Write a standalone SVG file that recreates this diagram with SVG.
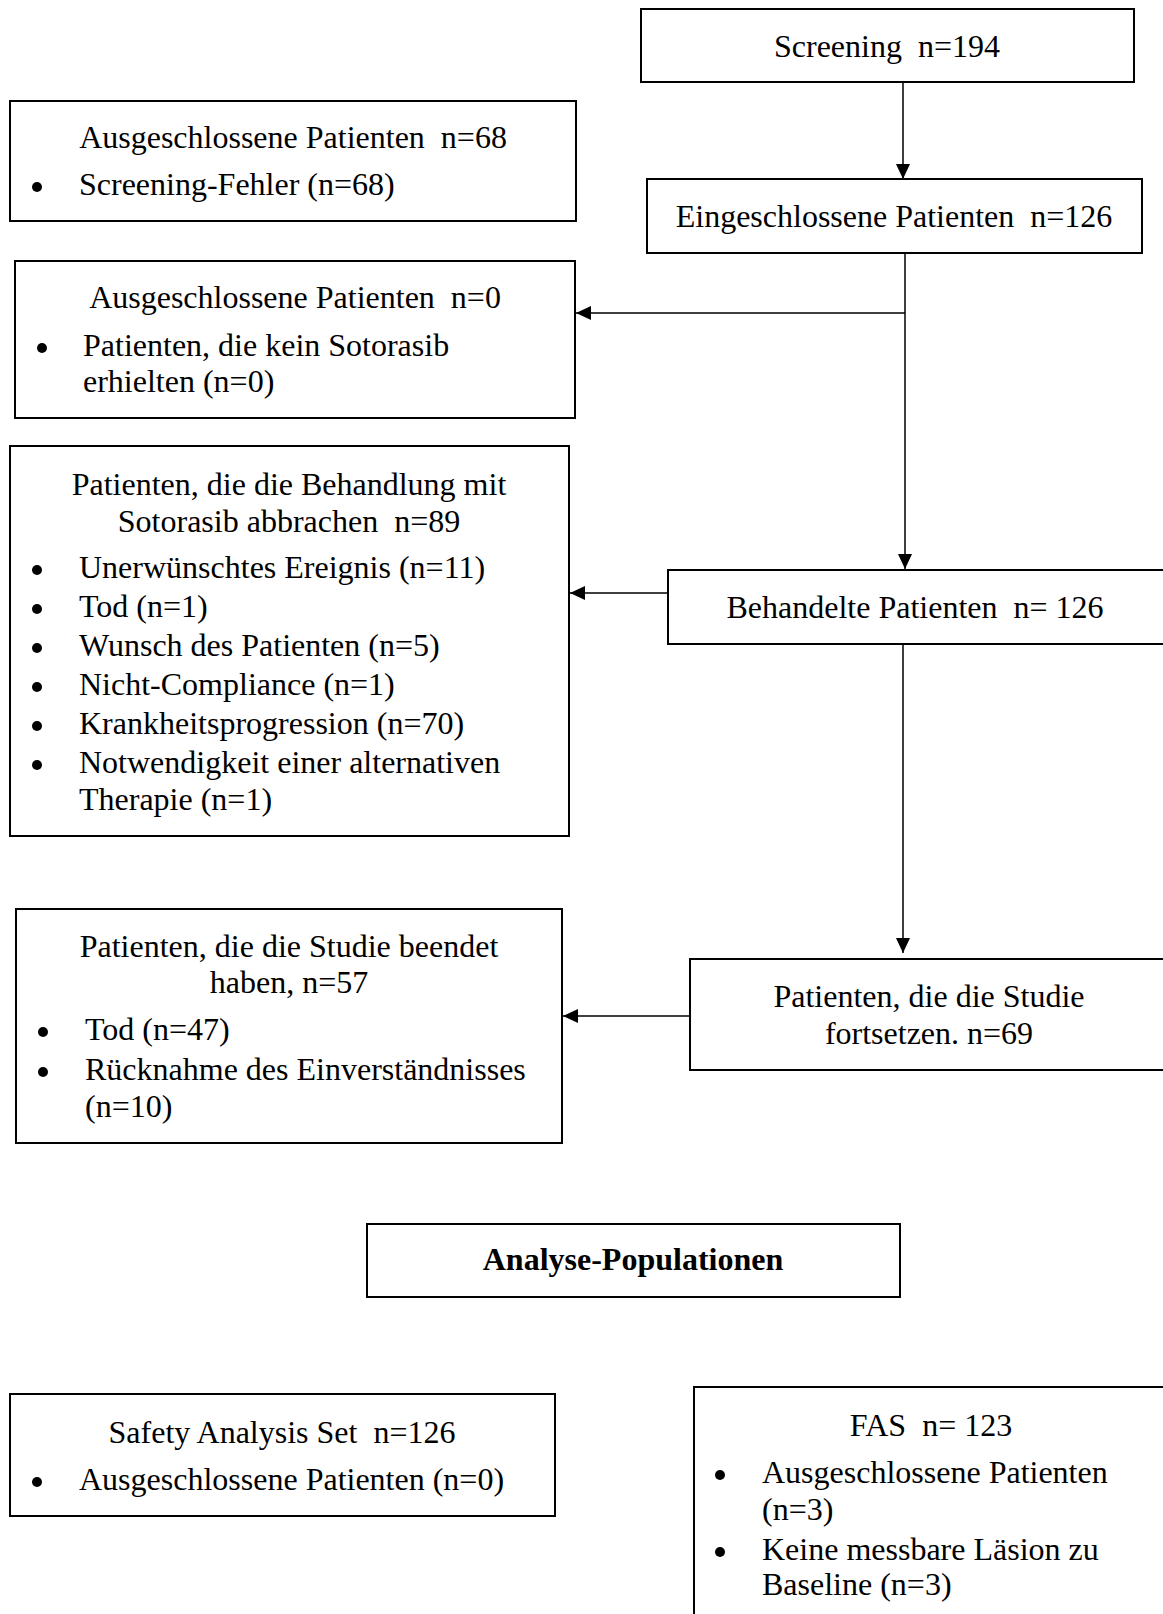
<svg xmlns="http://www.w3.org/2000/svg" width="1163" height="1614" viewBox="0 0 1163 1614">
  <style>
    .box { fill: #fff; stroke: #000; stroke-width: 2; }
    .t { font-family: "Liberation Serif", "Times New Roman", serif; font-size: 32px; fill: #000; white-space: pre; }
    .c { text-anchor: middle; }
    .b { font-weight: bold; }
    .dot { fill: #000; }
    .conn { fill: none; stroke: #000; stroke-width: 1.5; }
  </style>
  <defs>
    <marker id="arrow" markerUnits="userSpaceOnUse" markerWidth="15" markerHeight="14" refX="15" refY="7" orient="auto">
      <path d="M0,0 L15,7 L0,14 z" fill="#000"/>
    </marker>
  </defs>
  <rect width="1163" height="1614" fill="#fff"/>

  <!-- connectors -->
  <g id="connectors">
    <line class="conn" x1="903" y1="83" x2="903" y2="179" marker-end="url(#arrow)"/>
    <line class="conn" x1="905" y1="253" x2="905" y2="569" marker-end="url(#arrow)"/>
    <line class="conn" x1="905" y1="313" x2="576" y2="313" marker-end="url(#arrow)"/>
    <line class="conn" x1="667" y1="593" x2="570" y2="593" marker-end="url(#arrow)"/>
    <line class="conn" x1="903" y1="644" x2="903" y2="953" marker-end="url(#arrow)"/>
    <line class="conn" x1="690" y1="1016" x2="563" y2="1016" marker-end="url(#arrow)"/>
  </g>

  <!-- main flow -->
  <g id="screening">
    <rect class="box" x="641" y="9" width="493" height="73"/>
    <text class="t c" x="887" y="57" xml:space="preserve">Screening  n=194</text>
  </g>

  <g id="eingeschlossen">
    <rect class="box" x="647" y="179" width="495" height="74"/>
    <text class="t c" x="894" y="227" xml:space="preserve">Eingeschlossene Patienten  n=126</text>
  </g>

  <g id="ausgeschlossen-68">
    <rect class="box" x="10" y="101" width="566" height="120"/>
    <text class="t c" x="293" y="148" xml:space="preserve">Ausgeschlossene Patienten  n=68</text>
    <circle class="dot" cx="37" cy="187" r="5"/>
    <text class="t" x="79" y="195">Screening-Fehler (n=68)</text>
  </g>

  <g id="ausgeschlossen-0">
    <rect class="box" x="15" y="261" width="560" height="157"/>
    <text class="t c" x="295" y="308" xml:space="preserve">Ausgeschlossene Patienten  n=0</text>
    <circle class="dot" cx="42" cy="348" r="5"/>
    <text class="t" x="83" y="356">Patienten, die kein Sotorasib</text>
    <text class="t" x="83" y="392">erhielten (n=0)</text>
  </g>

  <g id="abbruch">
    <rect class="box" x="10" y="446" width="559" height="390"/>
    <text class="t c" x="289" y="495">Patienten, die die Behandlung mit</text>
    <text class="t c" x="289" y="532" xml:space="preserve">Sotorasib abbrachen  n=89</text>
    <circle class="dot" cx="37" cy="570" r="5"/>
    <text class="t" x="79" y="578">Unerwünschtes Ereignis (n=11)</text>
    <circle class="dot" cx="37" cy="609" r="5"/>
    <text class="t" x="79" y="617">Tod (n=1)</text>
    <circle class="dot" cx="37" cy="648" r="5"/>
    <text class="t" x="79" y="656">Wunsch des Patienten (n=5)</text>
    <circle class="dot" cx="37" cy="687" r="5"/>
    <text class="t" x="79" y="695">Nicht-Compliance (n=1)</text>
    <circle class="dot" cx="37" cy="726" r="5"/>
    <text class="t" x="79" y="734">Krankheitsprogression (n=70)</text>
    <circle class="dot" cx="37" cy="765" r="5"/>
    <text class="t" x="79" y="773">Notwendigkeit einer alternativen</text>
    <text class="t" x="79" y="810">Therapie (n=1)</text>
  </g>

  <g id="behandelt">
    <rect class="box" x="668" y="570" width="500" height="74"/>
    <text class="t c" x="915" y="618" xml:space="preserve">Behandelte Patienten  n= 126</text>
  </g>

  <g id="fortsetzen">
    <rect class="box" x="690" y="959" width="480" height="111"/>
    <text class="t c" x="929" y="1007">Patienten, die die Studie</text>
    <text class="t c" x="929" y="1044">fortsetzen. n=69</text>
  </g>

  <g id="beendet">
    <rect class="box" x="16" y="909" width="546" height="234"/>
    <text class="t c" x="289" y="957">Patienten, die die Studie beendet</text>
    <text class="t c" x="289" y="993">haben, n=57</text>
    <circle class="dot" cx="43" cy="1032" r="5"/>
    <text class="t" x="85" y="1040">Tod (n=47)</text>
    <circle class="dot" cx="43" cy="1072" r="5"/>
    <text class="t" x="85" y="1080">Rücknahme des Einverständnisses</text>
    <text class="t" x="85" y="1117">(n=10)</text>
  </g>

  <!-- analysis populations -->
  <g id="analyse">
    <rect class="box" x="367" y="1224" width="533" height="73"/>
    <text class="t c b" x="633" y="1270">Analyse-Populationen</text>
  </g>

  <g id="safety">
    <rect class="box" x="10" y="1394" width="545" height="122"/>
    <text class="t c" x="282" y="1443" xml:space="preserve">Safety Analysis Set  n=126</text>
    <circle class="dot" cx="37" cy="1482" r="5"/>
    <text class="t" x="79" y="1490">Ausgeschlossene Patienten (n=0)</text>
  </g>

  <g id="fas">
    <rect class="box" x="694" y="1387" width="480" height="240"/>
    <text class="t c" x="931" y="1436" xml:space="preserve">FAS  n= 123</text>
    <circle class="dot" cx="720" cy="1475" r="5"/>
    <text class="t" x="762" y="1483">Ausgeschlossene Patienten</text>
    <text class="t" x="762" y="1520">(n=3)</text>
    <circle class="dot" cx="720" cy="1552" r="5"/>
    <text class="t" x="762" y="1560">Keine messbare Läsion zu</text>
    <text class="t" x="762" y="1595">Baseline (n=3)</text>
  </g>
</svg>
